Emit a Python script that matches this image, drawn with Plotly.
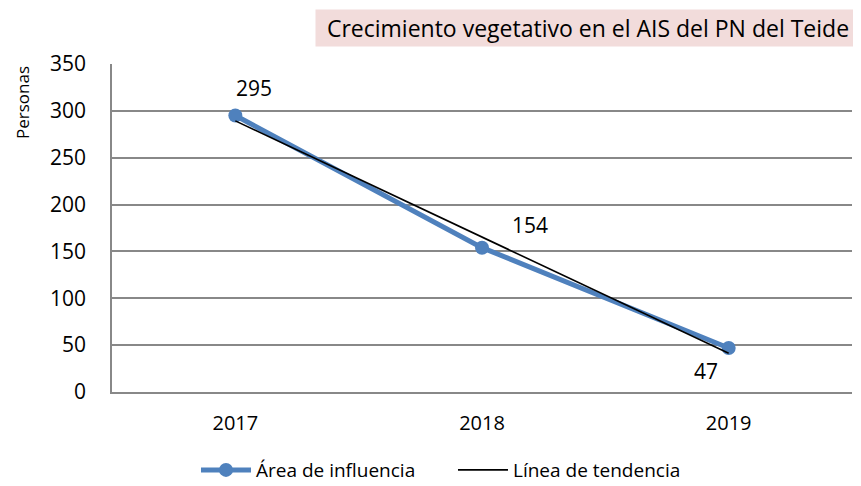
import plotly.graph_objects as go

years = ["2017", "2018", "2019"]
values = [295, 154, 47]
trend = [289.33, 165.33, 41.33]
title_text = "Crecimiento vegetativo en el AIS del PN del Teide"
series_name = "Área de influencia"
trend_name = "Línea de tendencia"
y_title = "Personas"

FONT = "Open Sans"

fig = go.Figure()
fig.add_trace(go.Scatter(
    x=years, y=values, name=series_name, mode="lines+markers",
    line=dict(color="#4F81BD", width=5),
    marker=dict(color="#4F81BD", size=14),
))
fig.add_trace(go.Scatter(
    x=years, y=trend, name=trend_name, mode="lines",
    line=dict(color="black", width=1.6),
))

label_shifts = [(19, 28), (48, 23), (-23, -23)]
for i, (yv, (dx, dy)) in enumerate(zip(values, label_shifts)):
    fig.add_annotation(x=i, y=yv, xref="x", yref="y", text=str(yv), showarrow=False,
                       xshift=dx, yshift=dy,
                       font=dict(family=FONT, size=21, color="black"))

fig.add_annotation(
    xref="paper", yref="paper", x=1.0, y=1.0, xanchor="right", yanchor="middle",
    yshift=36, xshift=9, width=542, height=34,
    text=title_text, showarrow=False, bgcolor="#F2DCDB",
    borderpad=1, font=dict(family=FONT, size=23, color="black"),
)

fig.add_annotation(
    xref="paper", yref="paper", x=0, y=1, xanchor="center", yanchor="middle",
    xshift=-90, yshift=-39, textangle=-90, text=y_title, showarrow=False,
    font=dict(family=FONT, size=17, color="black"),
)

fig.update_layout(
    width=861, height=486,
    margin=dict(l=104, r=17, t=56, b=102, autoexpand=False),
    paper_bgcolor="white", plot_bgcolor="white",
    font=dict(family=FONT, size=20, color="black"),
    showlegend=True,
    legend=dict(orientation="h", x=0.1135, xanchor="left", y=-0.238, yanchor="middle",
                font=dict(family=FONT, size=19), itemwidth=50,
                entrywidth=192, entrywidthmode="pixels"),
    xaxis=dict(type="category", range=[-0.5, 2.5], showgrid=False, automargin=False,
               showline=True, linecolor="#888888", linewidth=1.5,
               ticks="", ticklabelstandoff=12, tickfont=dict(size=20)),
    yaxis=dict(range=[0, 350], dtick=50, showgrid=True, gridcolor="#888888",
               gridwidth=1.5, showline=True, linecolor="#888888", linewidth=1.5,
               automargin=False, ticks="", ticklabelstandoff=20,
               tickfont=dict(size=21), zeroline=False),
)

fig.write_html("out.html")
